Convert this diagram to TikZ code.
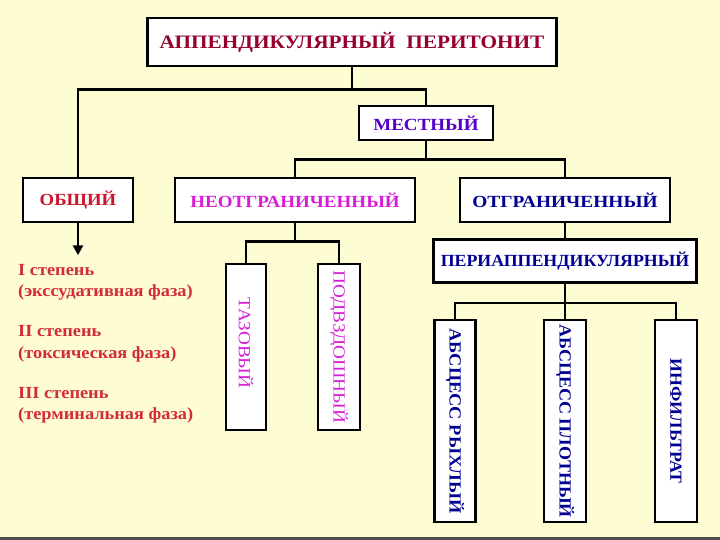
\documentclass[tikz,border=0pt]{standalone}
\usepackage{fontspec}
\setmainfont{Liberation Serif}
\usepackage{tikz}
\usetikzlibrary{arrows.meta, positioning, calc}

\definecolor{bgyellow}{RGB}{253,252,210}
\definecolor{titlered}{RGB}{150,0,45}
\definecolor{genred}{RGB}{205,20,45}
\definecolor{stagered}{RGB}{210,45,55}
\definecolor{locviolet}{RGB}{85,0,200}
\definecolor{unmag}{RGB}{215,30,215}
\definecolor{bnavy}{RGB}{0,0,145}

\newcommand{\hfont}[2]{\fontsize{#1}{#1}\selectfont\bfseries\addfontfeature{FakeStretch=#2}}

\tikzset{
  blk/.style={rectangle, draw, line width=2.6pt, fill=white,
              inner sep=0pt, align=center, font=\hfont{17}{1.12}},
  ttl/.style={blk, text=titlered, font=\hfont{19}{1.12}},
  vbox/.style={blk, font=\fontsize{17}{17}\selectfont\addfontfeature{FakeStretch=1.13}},
  link/.style={line width=2.6pt},
  thin link/.style={line width=1.8pt},
  arr/.style={link, -{Triangle[width=10pt,length=10pt]}},
}

\begin{document}
\begin{tikzpicture}[x=1pt, y=-1pt]

  \fill[bgyellow] (0,0) rectangle (720,540);
  \fill[black!70] (0,537) rectangle (720,540);
  \useasboundingbox (0,0) rectangle (720,540);

  % top levels
  \node[ttl, minimum width=409pt, minimum height=48pt] (title) at (352,42)
    {АППЕНДИКУЛЯРНЫЙ\ \ ПЕРИТОНИТ};
  \node[blk, text=locviolet, minimum width=134pt, minimum height=34pt] (local) at (426,123)
    {МЕСТНЫЙ};

  \node[blk, text=genred, font=\hfont{17}{1.1}, minimum width=110pt, minimum height=44pt] (general) at (78,200)
    {ОБЩИЙ};
  \node[blk, text=unmag, minimum width=240pt, minimum height=44pt] (unbound) at (295,200)
    {НЕОТГРАНИЧЕННЫЙ};
  \node[blk, text=bnavy, font=\hfont{17}{1.14}, minimum width=210pt, minimum height=44pt] (bound) at (565,200)
    {ОТГРАНИЧЕННЫЙ};
  \node[blk, text=bnavy, font=\hfont{17}{1.05}, line width=3.2pt, minimum width=263pt, minimum height=43pt] (peri) at (565,261)
    {ПЕРИАППЕНДИКУЛЯРНЫЙ};

  % vertical boxes
  \node[vbox, text=unmag, minimum width=40pt, minimum height=166pt] (pelvic) at (246,347)
    {\rotatebox{-90}{ТАЗОВЫЙ\hspace{8pt}}};
  \node[vbox, text=unmag, minimum width=42pt, minimum height=166pt] (iliac) at (339,347)
    {\rotatebox{-90}{ПОДВЗДОШНЫЙ}};

  \node[blk, text=bnavy, font=\hfont{17}{1.08}, minimum width=41pt, minimum height=202pt] (loose) at (455,421)
    {\rotatebox{-90}{АБСЦЕСС РЫХЛЫЙ}};
  \node[blk, text=bnavy, font=\hfont{17}{1.06}, minimum width=42pt, minimum height=202pt] (dense) at (565,421)
    {\rotatebox{-90}{АБСЦЕСС ПЛОТНЫЙ}};
  \node[blk, text=bnavy, font=\hfont{17}{1.05}, minimum width=42pt, minimum height=202pt] (infil) at (676,421)
    {\rotatebox{-90}{ИНФИЛЬТРАТ}};

  % stages of the general form
  \node[anchor=north west, align=left, text=stagered, inner sep=0pt,
        font=\fontsize{17}{21.5}\selectfont\bfseries\addfontfeature{FakeStretch=1.08}] (stages) at (18,264)
    {I степень\\(экссудативная фаза)\\[18.5pt]
     II степень\\(токсическая фаза)\\[18.5pt]
     III степень\\(терминальная фаза)};

  % connectors
  \draw[thin link] (title.south) -- ++(0,22) coordinate (j0);
  \draw[link] (general.north) |- (j0) -| (local.north);
  \draw[link] (local.south) -- ++(0,18) coordinate (j1);
  \draw[link] (unbound.north) |- (j1) -| (bound.north);
  \draw[link] (unbound.south) -- ++(0,18) coordinate (j2);
  \draw[link] (pelvic.north) |- (j2) -| (iliac.north);
  \draw[link] (bound.south) -- (peri.north);
  \draw[link] (peri.south) -- ++(0,19) coordinate (j3);
  \draw[link] (loose.north) |- (j3) -| (infil.north);
  \draw[link] (j3) -- (dense.north);
  \draw[arr] (general.south) -- ++(0,32) coordinate (j4);

\end{tikzpicture}
\end{document}
